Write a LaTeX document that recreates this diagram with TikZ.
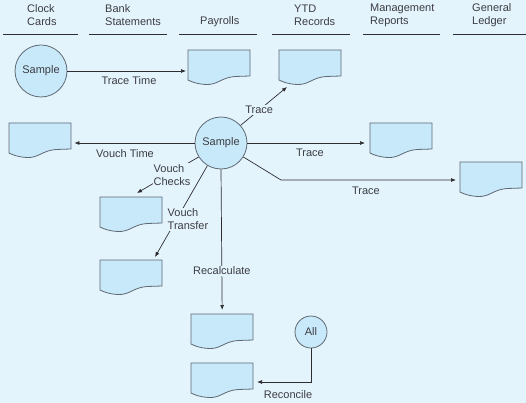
\documentclass[tikz,border=0pt]{standalone}
\usepackage{fontspec}
\setmainfont{Liberation Sans}
\usetikzlibrary{arrows.meta}
\definecolor{bg}{RGB}{228,244,253}
\definecolor{shp}{RGB}{200,233,250}
\definecolor{edgec}{RGB}{95,105,115}
\definecolor{ink}{RGB}{45,45,50}
\definecolor{txt}{RGB}{60,60,66}
\newcommand\docshape[3]{%
  \node[docbox,anchor=north west] (#1) at (#2,#3) {};
  \draw[docline,shift={(#2,#3)}] (0,0) -- (62,0) -- (62,26) -- (47,26.5)
    .. controls (33,27.5) and (30,35) .. (18,34.5)
    .. controls (9,34) and (4,32) .. (0,30) -- cycle;
}
\begin{document}
\begin{tikzpicture}[x=1pt,y=-1pt,
  font=\fontsize{11}{13}\selectfont, text=txt,
  docbox/.style={rectangle, minimum width=62pt, minimum height=30pt, inner sep=0pt},
  docline/.style={draw=edgec, fill=shp, line width=0.8pt},
  circ/.style={circle, draw=edgec, fill=shp, line width=0.8pt, inner sep=0pt},
  conn/.style={draw=ink, line width=0.7pt},
  arr/.style={conn, -{Latex[length=5pt,width=4pt]}},
  lbl/.style={fill=bg, inner sep=1pt, align=left},
  hdr/.style={align=left, anchor=west, inner sep=0pt},
  hline/.style={draw=ink, line width=0.9pt}]
\useasboundingbox (0,0) rectangle (526,403);
\fill[bg] (0,0) rectangle (526,403);
% headers
\node[hdr] (h1) at (27,15) {Clock\\Cards};
\node[hdr] (h2) at (105,15) {Bank\\Statements};
\node[hdr] (h3) at (200,21.5) {Payrolls};
\node[hdr] (h4) at (294,15) {YTD\\Records};
\node[hdr] (h5) at (370,15) {Management\\Reports};
\node[hdr] (h6) at (472,15) {General\\Ledger};
\draw[hline] (3,34) -- (78,34);
\draw[hline] (89,34) -- (167,34);
\draw[hline] (179,34) -- (257,34);
\draw[hline] (272,34) -- (350,34);
\draw[hline] (363,34) -- (440,34);
\draw[hline] (453,34) -- (526,34);
% documents
\docshape{pay}{188}{50}
\docshape{ytd}{279}{50}
\docshape{vt}{9}{123}
\docshape{mg}{370}{123}
\docshape{gl}{460}{162}
\docshape{vc}{100}{197}
\docshape{vtr}{100}{260}
\docshape{rc}{191}{314}
\docshape{rcn}{191}{363}
% circles
\node[circ, minimum size=52pt] (s1) at (41,71) {Sample};
\node[circ, minimum size=52pt] (s2) at (221,143) {Sample};
\node[circ, minimum size=32pt] (all) at (311,332) {All};
% free ends
\coordinate (ytdin) at (287,87);
\coordinate (vcin) at (137,193);
\coordinate (vtin) at (155,257);
\coordinate (glk) at (281,180);
\coordinate (rcin) at (257,382);
% connectors
\draw[arr, shorten >=2pt] (s1.east) -- (s1.east -| pay.west);
\node (ltt) at (129,81) {Trace Time};
\draw[arr] (s2.42) -- node[lbl, pos=0.4] {Trace} (ytdin);
\draw[arr, shorten >=3pt] (s2.west) -- (s2.west -| vt.east);
\node (lvt) at (125,154) {Vouch Time};
\draw[arr, shorten >=5pt] (s2.east) -- (s2.east -| mg.west);
\node (lmg) at (310,153) {Trace};
\draw[arr, shorten >=4pt] (s2.-32) -- (glk) -- (glk -| gl.west);
\node (lgl) at (366,191) {Trace};
\draw[arr] (s2.212) -- (vcin);
\node[lbl] (lvc) at (172,175) {Vouch\\Checks};
\draw[arr] (s2.239) -- (vtin);
\node[lbl] (lvtr) at (188,219.5) {Vouch\\Transfer};
\draw[arr, shorten >=4pt] (s2.south) -- node[lbl, pos=0.7] {Recalculate} (rc.north);
\draw[arr] (all.south) |- (rcin);
\node (lrc) at (288,395) {Reconcile};
\end{tikzpicture}
\end{document}
